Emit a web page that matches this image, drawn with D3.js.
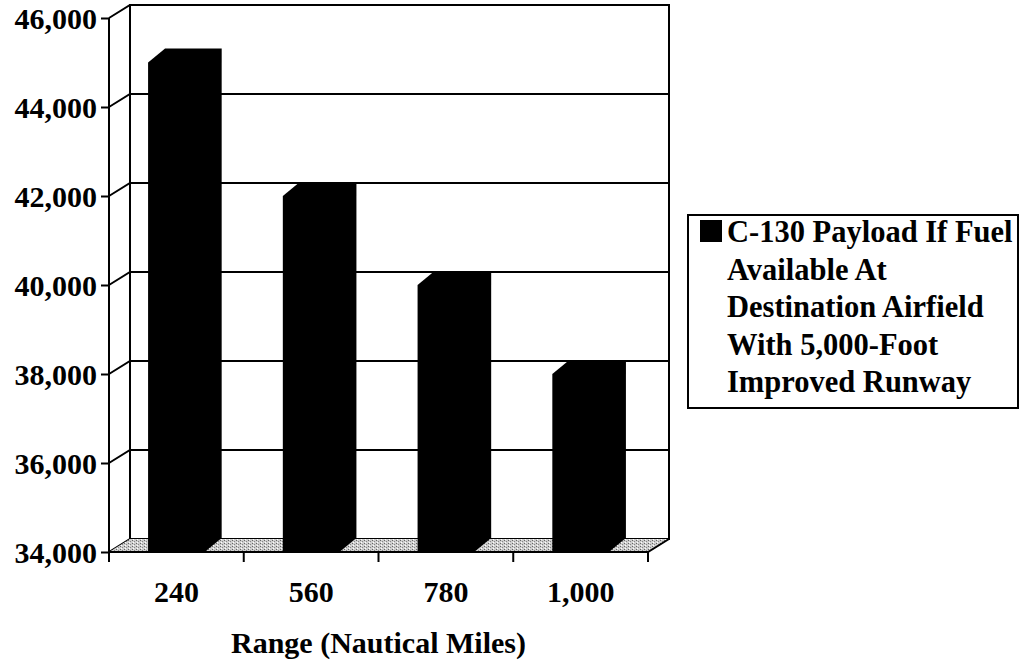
<!DOCTYPE html>
<html>
<head>
<meta charset="utf-8">
<script src="https://cdn.jsdelivr.net/npm/d3@7"></script>
<style>
  html, body { margin: 0; padding: 0; background: white; }
  svg { display: block; }
  text { font-family: 'Liberation Serif', 'Times New Roman', serif; font-weight: bold; fill: black; }
</style>
</head>
<body>
<svg width="1025" height="669"></svg>
<script>
// === Data

const RANGES = ['240', '560', '780', '1,000'];
const PAYLOADS = [45000, 42000, 40000, 38000];
const Y_TICKS = [34000, 36000, 38000, 40000, 42000, 44000, 46000];
const LEGEND_LINES = ['C-130 Payload If Fuel', 'Available At', 'Destination Airfield', 'With 5,000-Foot', 'Improved Runway'];
const X_TITLE = 'Range (Nautical Miles)';

// === Config

const FRONT = { left: 109, right: 648, top: 18, bottom: 552 };
const WALL_DEPTH = { x: 21, y: -13 };
const BAR_DEPTH = { x: 17, y: -14 };
const FONT_SIZE = 30;
const LEGEND = { x: 688, y: 215, width: 330, height: 193, firstBaseline: 242, lineHeight: 37.5, textX: 727, fontSize: 30.5 };

function main() {
  const svg = d3.select('svg');

  const y = d3.scaleLinear()
    .domain([34000, 46000])
    .range([FRONT.bottom, FRONT.top]);
  const x = d3.scaleBand()
    .domain(RANGES)
    .range([FRONT.left, FRONT.right])
    .paddingInner(0.58)
    .paddingOuter(0.29);

  // floor stipple
  const pat = svg.append('defs').append('pattern')
    .attr('id', 'stipple')
    .attr('width', 4).attr('height', 3)
    .attr('patternUnits', 'userSpaceOnUse');
  pat.append('rect').attr('width', 4).attr('height', 3).attr('fill', '#cfcfcf');
  pat.append('rect').attr('x', 0).attr('y', 0).attr('width', 1).attr('height', 1).attr('fill', '#666');
  pat.append('rect').attr('x', 2).attr('y', 1).attr('width', 1).attr('height', 1).attr('fill', '#888');
  pat.append('rect').attr('x', 1).attr('y', 2).attr('width', 1).attr('height', 1).attr('fill', '#fff');

  const backLeft = FRONT.left + WALL_DEPTH.x;
  const backRight = FRONT.right + WALL_DEPTH.x;

  // back wall
  svg.append('rect')
    .attr('x', backLeft)
    .attr('y', FRONT.top + WALL_DEPTH.y)
    .attr('width', backRight - backLeft)
    .attr('height', FRONT.bottom - FRONT.top)
    .attr('fill', 'white')
    .attr('stroke', 'black')
    .attr('stroke-width', 2);

  // gridlines: diagonal on side wall, then across back wall
  svg.append('g').attr('class', 'grid')
    .selectAll('path')
    .data(Y_TICKS)
    .enter()
    .append('path')
    .attr('d', d => `M${FRONT.left},${y(d)}L${backLeft},${y(d) + WALL_DEPTH.y}L${backRight},${y(d) + WALL_DEPTH.y}`)
    .attr('fill', 'none')
    .attr('stroke', 'black')
    .attr('stroke-width', 2);

  // floor
  svg.append('path')
    .attr('d', `M${FRONT.left},${FRONT.bottom}L${FRONT.right},${FRONT.bottom}L${backRight},${FRONT.bottom + WALL_DEPTH.y}L${backLeft},${FRONT.bottom + WALL_DEPTH.y}Z`)
    .attr('fill', 'url(#stipple)')
    .attr('stroke', 'none');
  svg.append('path')
    .attr('d', `M${FRONT.left},${FRONT.bottom}L${FRONT.right},${FRONT.bottom}L${backRight},${FRONT.bottom + WALL_DEPTH.y}`)
    .attr('fill', 'none')
    .attr('stroke', 'black')
    .attr('stroke-width', 2);

  // bars (3D silhouettes, all black)
  svg.append('g').attr('class', 'bars')
    .selectAll('path')
    .data(PAYLOADS)
    .enter()
    .append('path')
    .attr('d', (d, i) => {
      const x0 = x(RANGES[i]);
      const x1 = x0 + x.bandwidth();
      const top = y(d);
      const bot = FRONT.bottom;
      return `M${x0},${bot}L${x0},${top}L${x0 + BAR_DEPTH.x},${top + BAR_DEPTH.y}` +
        `L${x1 + BAR_DEPTH.x},${top + BAR_DEPTH.y}L${x1 + BAR_DEPTH.x},${bot + BAR_DEPTH.y}L${x1},${bot}Z`;
    })
    .attr('fill', 'black');

  // y axis
  const yAxis = d3.axisLeft(y)
    .tickValues(Y_TICKS)
    .tickSize(8)
    .tickPadding(4)
    .tickFormat(d3.format(','));
  const yNode = svg.append('g')
    .attr('class', 'y axis')
    .attr('transform', `translate(${FRONT.left},0)`)
    .call(yAxis);
  yNode.select('.domain').attr('stroke-width', 2).attr('d', `M0,${FRONT.top}V${FRONT.bottom}`);
  yNode.selectAll('line').attr('stroke-width', 2);
  yNode.selectAll('text')
    .style('font-size', FONT_SIZE + 'px')
    .style('font-family', "'Liberation Serif', serif")
    .style('font-weight', 'bold')
    .attr('dy', '0.34em');

  // x axis ticks sit on category boundaries
  const xTicks = RANGES.map((r, i) => FRONT.left + i * x.step()).concat([FRONT.right]);
  svg.append('g').attr('class', 'x ticks')
    .selectAll('line')
    .data(xTicks)
    .enter()
    .append('line')
    .attr('x1', d => d).attr('x2', d => d)
    .attr('y1', FRONT.bottom).attr('y2', FRONT.bottom + 10)
    .attr('stroke', 'black')
    .attr('stroke-width', 2);

  svg.append('g').attr('class', 'x labels')
    .selectAll('text')
    .data(RANGES)
    .enter()
    .append('text')
    .attr('x', d => x(d) + x.bandwidth() / 2)
    .attr('y', 602)
    .attr('text-anchor', 'middle')
    .style('font-size', FONT_SIZE + 'px')
    .text(d => d);

  svg.append('text')
    .attr('x', (FRONT.left + FRONT.right) / 2)
    .attr('y', 653)
    .attr('text-anchor', 'middle')
    .style('font-size', FONT_SIZE + 'px')
    .text(X_TITLE);

  // legend
  const legend = svg.append('g').attr('class', 'legend');
  legend.append('rect')
    .attr('x', LEGEND.x).attr('y', LEGEND.y)
    .attr('width', LEGEND.width).attr('height', LEGEND.height)
    .attr('fill', 'white')
    .attr('stroke', 'black')
    .attr('stroke-width', 2);
  legend.append('rect')
    .attr('x', 700).attr('y', 220)
    .attr('width', 22).attr('height', 22)
    .attr('fill', 'black');
  legend.selectAll('text.line')
    .data(LEGEND_LINES)
    .enter()
    .append('text')
    .attr('class', 'line')
    .attr('x', LEGEND.textX)
    .attr('y', (d, i) => LEGEND.firstBaseline + i * LEGEND.lineHeight)
    .style('font-size', LEGEND.fontSize + 'px')
    .text(d => d);
}

main();
</script>
</body>
</html>
